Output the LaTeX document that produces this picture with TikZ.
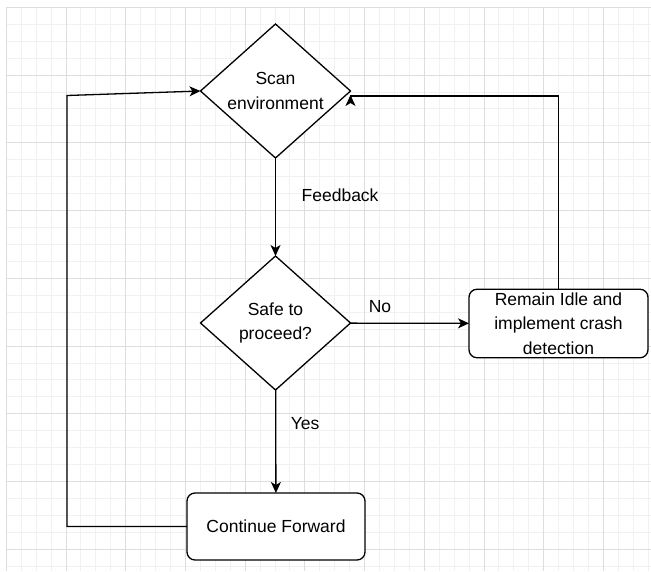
\documentclass[tikz,border=0pt]{standalone}
\usepackage{fontspec}
\setmainfont{Liberation Sans}
\usetikzlibrary{shapes.geometric,arrows.meta}

\definecolor{gridminor}{HTML}{F1F1F1}
\definecolor{gridmajor}{HTML}{DDDDDD}

\begin{document}
\begin{tikzpicture}[x=1pt,y=-1pt,
	>={Stealth[length=11pt,width=10pt,inset=3pt]},
	every node/.style={font=\fontsize{17.5}{24.5}\selectfont},
	decision/.style={diamond,draw,line width=1.3pt,fill=white,inner sep=-6pt,outer sep=0pt,
		minimum width=150pt,minimum height=134pt,align=center},
	process/.style={rectangle,draw,line width=1.3pt,fill=white,rounded corners=8pt,outer sep=0pt,
		minimum width=178pt,minimum height=67pt,align=center},
	flow/.style={->,line width=1.3pt},
	edgelabel/.style={inner sep=0pt}]
	\useasboundingbox (0,0) rectangle (651,571);
	\fill[white] (0,0) rectangle (651,571);
	
	% grid
	\begin{scope}[line width=1pt]
		\foreach \i in {0,...,43}
			\draw[gridminor] ({6.3+14.93*\i},7.3) -- ({6.3+14.93*\i},571);
		\foreach \j in {0,...,33}
			\draw[gridminor] (6.3,{7.3+16.94*\j}) -- (651,{7.3+16.94*\j});
		\foreach \i in {0,...,10}
			\draw[gridmajor] ({6.3+59.72*\i},7.3) -- ({6.3+59.72*\i},571);
		\foreach \j in {0,...,8}
			\draw[gridmajor] (6.3,{7.3+67.77*\j}) -- (651,{7.3+67.77*\j});
	\end{scope}
	
	% shapes
	\node[decision] (scan) at (275.5,91) {Scan\\environment};
	\node[decision] (safe) at (275.5,323) {Safe to\\proceed?};
	\node[process,minimum width=179pt] (idle) at (558.5,323.5) {Remain Idle and\\implement crash\\detection};
	\node[process] (forward) at (276,526.5) {Continue Forward};
	
	\coordinate (lefttop) at (67,95.5);
	
	% connectors
	\draw[flow] (scan) -- (safe) node[edgelabel,pos=.38,anchor=west,xshift=25.5pt] (fb) {Feedback};
	\draw[flow] (safe) -- (idle) node[edgelabel,pos=.25,anchor=south,yshift=10pt] (no) {No};
	\draw[flow] (safe) -- (forward) node[edgelabel,pos=.33,anchor=west,xshift=14.5pt] (yes) {Yes};
	\draw[flow] (forward.west) -| (lefttop) -- (scan.west);
	\draw[flow] (idle.north) |- ([yshift=-5pt]scan.east) -- ([yshift=-4pt]scan.east);
\end{tikzpicture}
\end{document}
